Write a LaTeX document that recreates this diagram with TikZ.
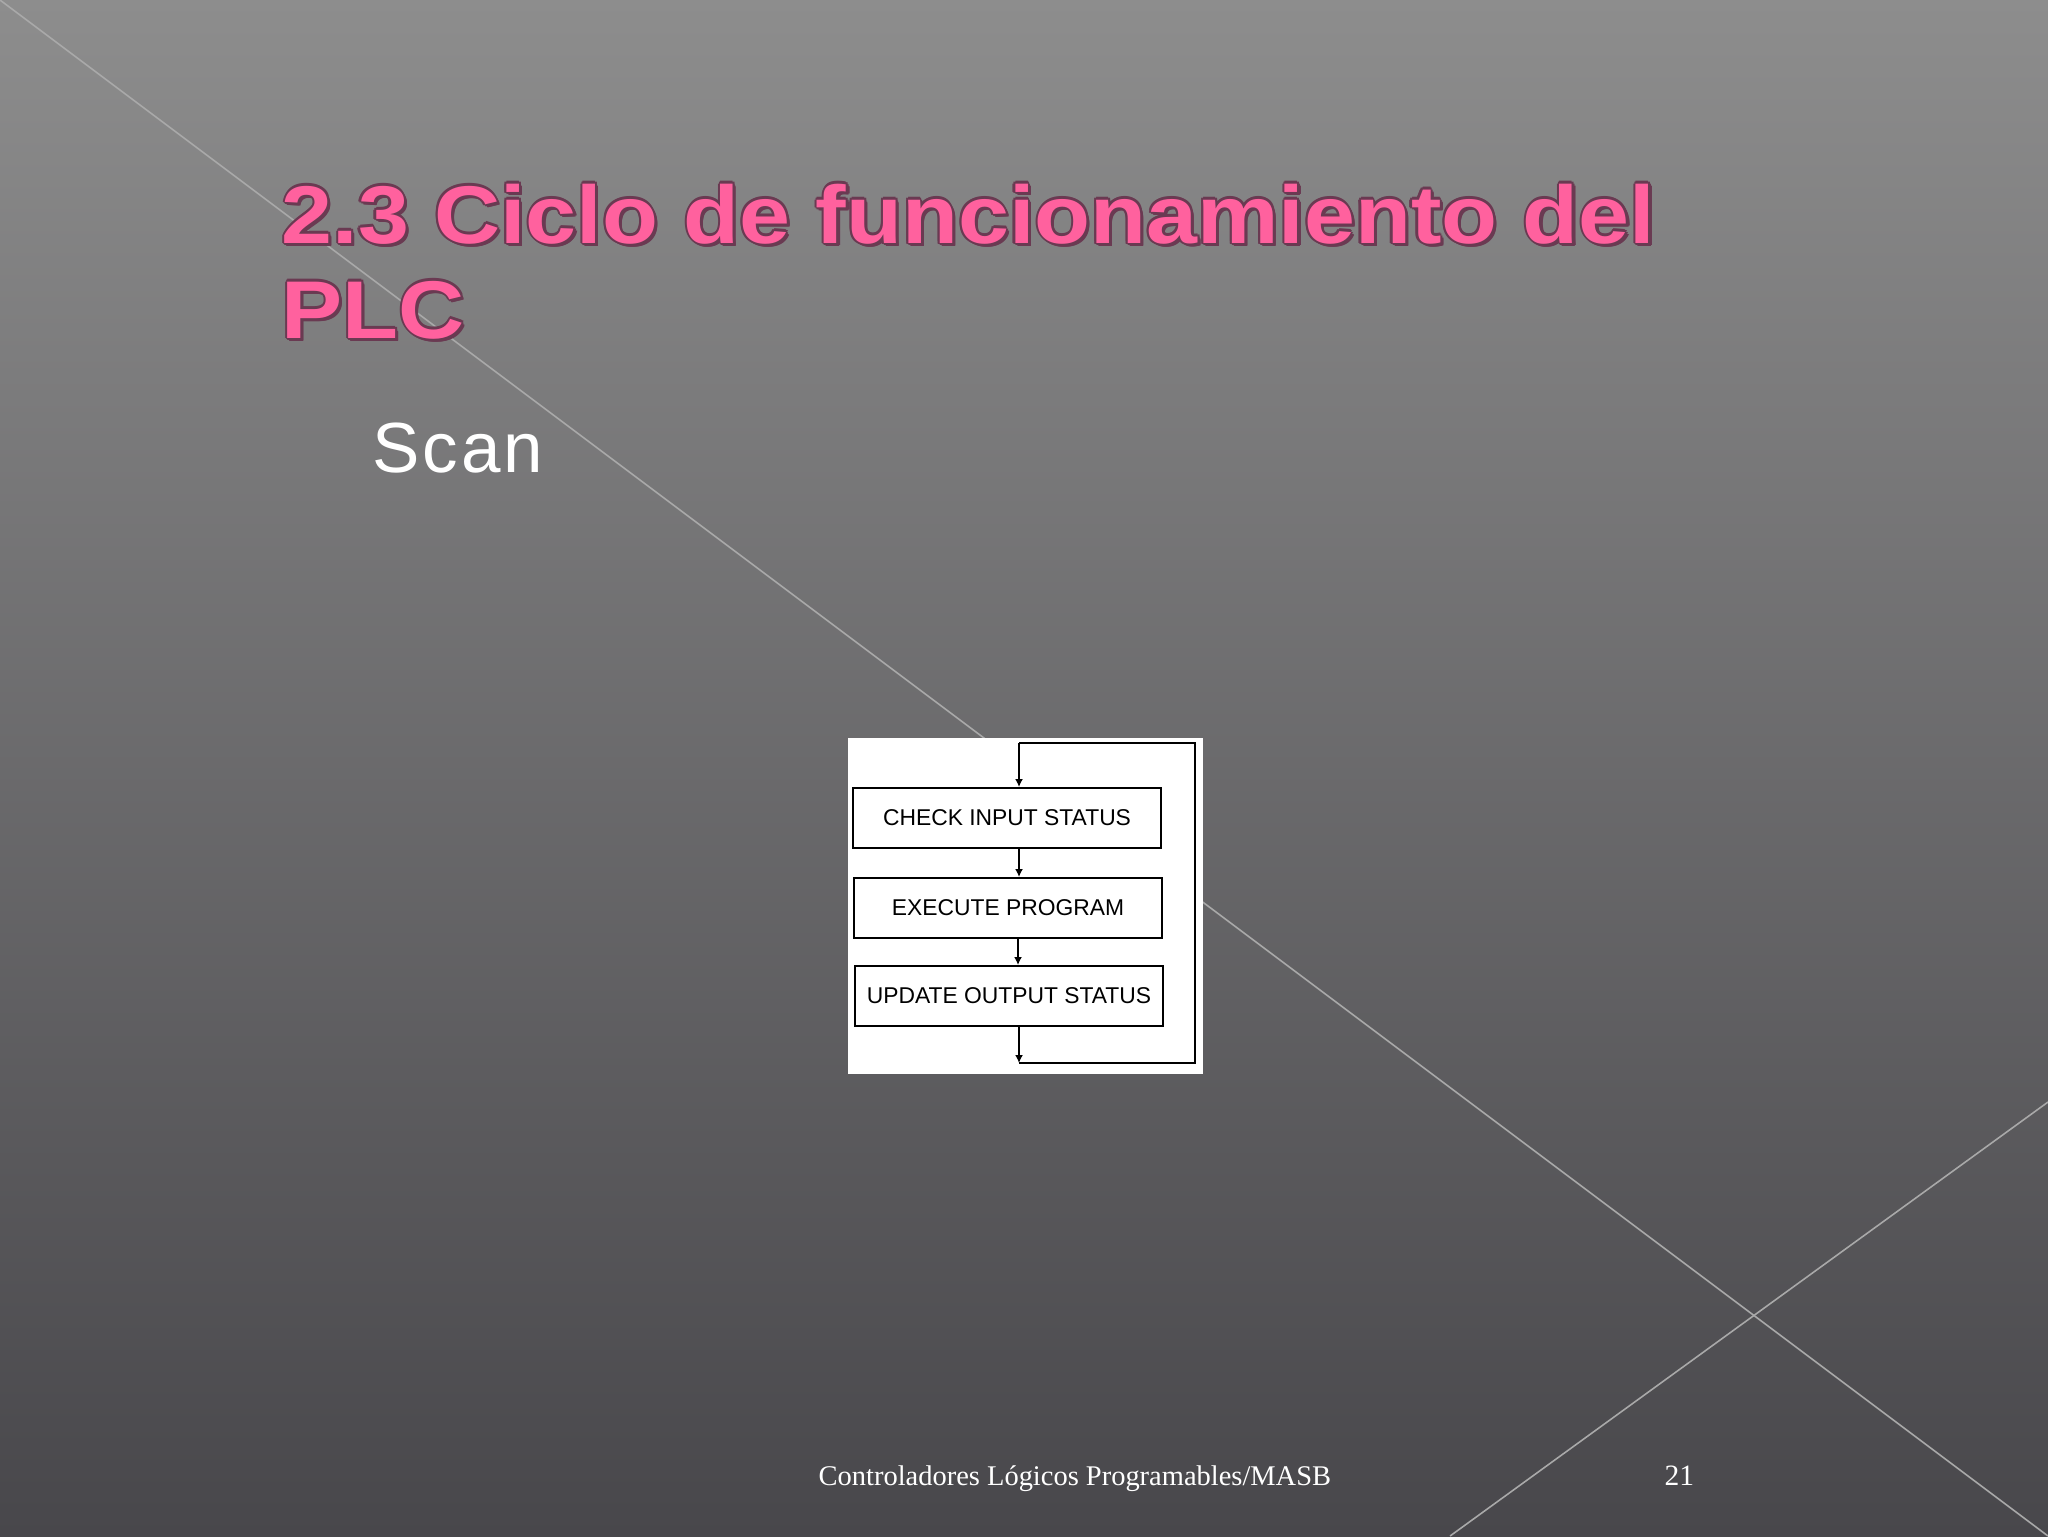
\documentclass[tikz,border=0pt]{standalone}
\usepackage{fontspec}
\setmainfont{Liberation Sans}
\newfontfamily\seriffont{Liberation Serif}
\newfontfamily\scanfont{Liberation Sans}[LetterSpace=4]
\usetikzlibrary{arrows.meta}
\definecolor{titlepink}{HTML}{FF619E}
\definecolor{titleedge}{HTML}{6A3A52}
\definecolor{bgtop}{HTML}{8D8D8D}
\definecolor{bgbot}{HTML}{48474B}
\definecolor{diag}{HTML}{A9A9A9}
\newcommand\ttl[1]{\scalebox{1.118}[1]{#1}}
\tikzset{
  titletxt/.style={anchor=base west, inner sep=0pt, font=\bfseries\fontsize{23.3pt}{23.3pt}\selectfont},
  stepbox/.style={draw=black, line width=0.569pt, fill=white, minimum width=30.8mm, minimum height=6mm, inner sep=0pt, font=\fontsize{6.5pt}{6.5pt}\selectfont},
  flow/.style={line width=0.569pt, -{Latex[length=0.8mm,width=0.8mm]}},
  loopline/.style={line width=0.569pt},
  diagline/.style={draw=diag, line width=0.45pt},
}
\begin{document}
\begin{tikzpicture}[x=0.1mm,y=-0.1mm]
\useasboundingbox (0,0) rectangle (2048,1536);
\shade[top color=bgtop, bottom color=bgbot] (0,0) rectangle (2048,1536);
% decorative diagonal lines
\draw[diagline] (0,0) -- (2048,1536);
\draw[diagline] (1450,1536) -- (2048,1102);
% title with dark outline
\foreach \dx/\dy in {-2.2/0,2.2/0,0/-2.2,0/2.2,-1.6/-1.6,1.6/-1.6,-1.6/1.6,1.6/1.6,3/3,2/3.2,3.2/2}{
  \node[titletxt,text=titleedge] at (281+\dx,243+\dy) {\ttl{2.3 Ciclo de funcionamiento del}};
  \node[titletxt,text=titleedge] at (281+\dx,338+\dy) {\ttl{PLC}};
}
\node[titletxt,text=titlepink] (title1) at (281,243) {\ttl{2.3 Ciclo de funcionamiento del}};
\node[titletxt,text=titlepink] (title2) at (281,338) {\ttl{PLC}};
% subtitle
\node[anchor=base west, inner sep=0pt, text=white, font=\scanfont\fontsize{20.2pt}{20.2pt}\selectfont] (scan) at (372,472) {Scan};
% flowchart
\node[fill=white, minimum width=35.5mm, minimum height=33.6mm, inner sep=0pt, anchor=north west] (panel) at (847,737) {};
\node[stepbox] (b1) at (1007,818) {CHECK INPUT STATUS};
\node[stepbox] (b2) at (1008,908) {EXECUTE PROGRAM};
\node[stepbox] (b3) at (1009,996) {UPDATE OUTPUT STATUS};
\coordinate (lt) at (1019,743);
\coordinate (rt) at (1195,743);
\coordinate (rb) at (1195,1063);
\coordinate (lb) at (1019,1063);
\draw[flow] (b1.south -| lt) -- (b2.north -| lt);
\draw[flow] (b2.south -| 1018,0) -- (b3.north -| 1018,0);
\draw[flow] (b3.south -| lb) -- (lb);
\draw[loopline] (lb) -- (rb) -- (rt) -- (lt);
\draw[flow] (lt) -- (b1.north -| lt);
% footer
\node[anchor=base west, inner sep=0pt, text=white, font=\seriffont\fontsize{8.1pt}{8.1pt}\selectfont] (foot) at (818,1485) {Controladores Lógicos Programables/MASB};
\node[anchor=base west, inner sep=0pt, text=white, font=\seriffont\fontsize{8.4pt}{8.4pt}\selectfont] (pnum) at (1664,1485) {21};
\end{tikzpicture}
\end{document}
